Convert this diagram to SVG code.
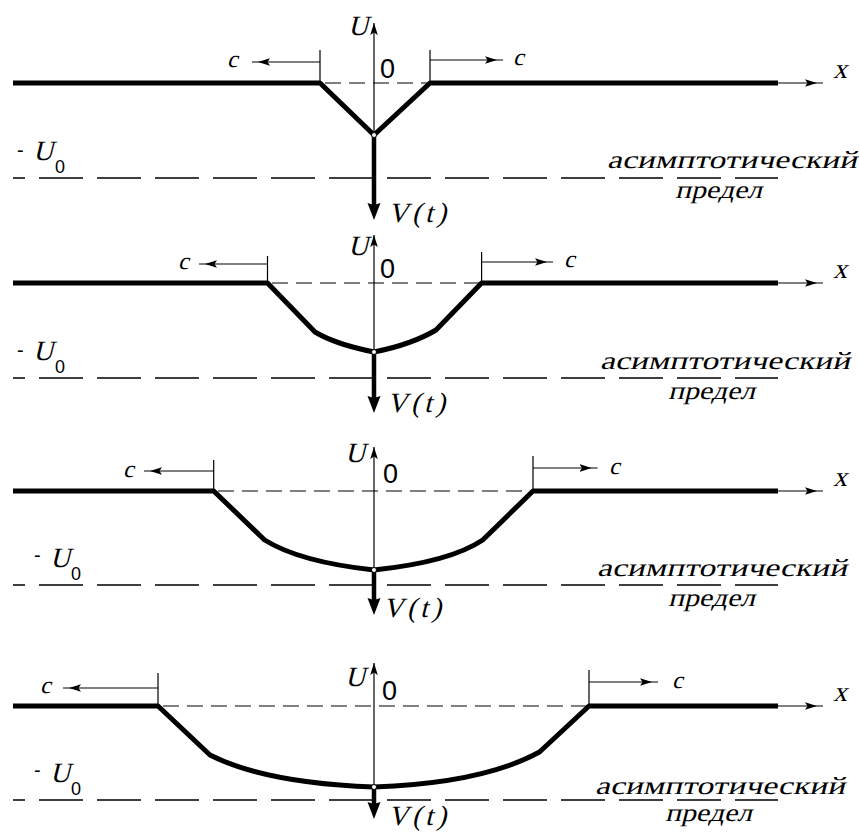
<svg xmlns="http://www.w3.org/2000/svg" width="859" height="835" viewBox="0 0 859 835">
<style>
.bg{fill:#fff}
.thick{stroke:#000;stroke-width:5;fill:none;stroke-linejoin:round}
.thin{stroke:#000;stroke-width:1.2;fill:none}
.vec{stroke:#000;stroke-width:4.5;fill:none}
.zero{stroke:#000;stroke-width:1.1;fill:none;stroke-dasharray:16 8}
.asym{stroke:#000;stroke-width:1.6;fill:none;stroke-dasharray:44 14;stroke-dashoffset:32}
.dot{fill:#fff;stroke:#000;stroke-width:1}
</style>
<defs>
<marker id="a" markerUnits="userSpaceOnUse" markerWidth="20" markerHeight="12" viewBox="0 -6 20 12" refX="18" refY="0" orient="auto"><path d="M0,-3.8 L12,0 L0,3.8 L2.5,0 z" fill="#000"/></marker>
<marker id="a2" markerUnits="userSpaceOnUse" markerWidth="14" markerHeight="12" viewBox="0 -6 14 12" refX="12" refY="0" orient="auto"><path d="M0,-3.8 L12,0 L0,3.8 L2.5,0 z" fill="#000"/></marker>
<marker id="v" markerUnits="userSpaceOnUse" markerWidth="18" markerHeight="14" viewBox="0 -7 18 14" refX="3" refY="0" orient="auto"><path d="M0,-6.5 L17,0 L0,6.5 L2,0 z" fill="#000"/></marker>
</defs>
<rect class="bg" x="0" y="0" width="859" height="835"/>

<g id="panel1">
<line class="asym" x1="13" y1="178" x2="778" y2="178"/>
<line class="zero" x1="325" y1="83" x2="430" y2="83"/>
<path class="thick" d="M13,83 H320 L374,135 L430,83 H778"/>
<line class="thin" x1="778" y1="83" x2="823" y2="83" marker-end="url(#a)"/>
<path class="thin" d="M320,50 V83 M430,50 V83"/>
<line class="thin" x1="320" y1="62" x2="252" y2="62" marker-end="url(#a)"/>
<line class="thin" x1="430" y1="60" x2="503" y2="60" marker-end="url(#a)"/>
<line class="thin" x1="374" y1="135" x2="374" y2="23" marker-end="url(#a2)"/>
<line class="vec" x1="374" y1="135" x2="374" y2="206" marker-end="url(#v)"/>
<circle class="dot" cx="374" cy="135" r="2.5"/>
<g font-family="Liberation Serif, serif" fill="#000">
<text font-size="24" transform="translate(227,67) skewX(-14)">c</text>
<text font-size="24" transform="translate(513,65) skewX(-14)">c</text>
<text font-size="28" transform="translate(348,35) skewX(-14)">U</text>
<text font-size="28" transform="translate(833,78) skewX(-14)">x</text>
<text font-size="28" transform="translate(388,222) skewX(-14)" textLength="58">V(t)</text>
<text font-size="28" transform="translate(33,160) skewX(-14)">U</text>
<text font-size="25" transform="translate(607,168) skewX(-14)" textLength="250" lengthAdjust="spacingAndGlyphs">асимптотический</text>
<text font-size="25" transform="translate(675,198) skewX(-14)" textLength="87" lengthAdjust="spacingAndGlyphs">предел</text>
</g>
<g font-family="Liberation Sans, sans-serif" fill="#000">
<text font-size="27" x="380" y="78">0</text>
<text font-size="20" x="17" y="157">-</text>
<text font-size="18" x="55" y="173">0</text>
</g>
</g>

<g id="panel2">
<line class="asym" x1="13" y1="378" x2="778" y2="378"/>
<line class="zero" x1="272" y1="283" x2="481.6" y2="283"/>
<path class="thick" d="M13,283 H267.5 L315,332 Q335.5,344.3 374,352 Q412,344.4 436,330 L481.6,283 H778"/>
<line class="thin" x1="778" y1="283" x2="823" y2="283" marker-end="url(#a)"/>
<path class="thin" d="M267.5,256 V283 M481.6,252 V283"/>
<line class="thin" x1="267.5" y1="264" x2="199" y2="264" marker-end="url(#a)"/>
<line class="thin" x1="481.6" y1="262" x2="553" y2="262" marker-end="url(#a)"/>
<line class="thin" x1="374" y1="352" x2="374" y2="235" marker-end="url(#a2)"/>
<line class="vec" x1="374" y1="352" x2="374" y2="399" marker-end="url(#v)"/>
<circle class="dot" cx="374" cy="352" r="2.5"/>
<g font-family="Liberation Serif, serif" fill="#000">
<text font-size="24" transform="translate(178,269) skewX(-14)">c</text>
<text font-size="24" transform="translate(564,267) skewX(-14)">c</text>
<text font-size="28" transform="translate(348,255) skewX(-14)">U</text>
<text font-size="28" transform="translate(833,278) skewX(-14)">x</text>
<text font-size="28" transform="translate(387,412) skewX(-14)" textLength="58">V(t)</text>
<text font-size="28" transform="translate(33,360) skewX(-14)">U</text>
<text font-size="25" transform="translate(600,369) skewX(-14)" textLength="250" lengthAdjust="spacingAndGlyphs">асимптотический</text>
<text font-size="25" transform="translate(668,399) skewX(-14)" textLength="87" lengthAdjust="spacingAndGlyphs">предел</text>
</g>
<g font-family="Liberation Sans, sans-serif" fill="#000">
<text font-size="27" x="380" y="278">0</text>
<text font-size="20" x="17" y="357">-</text>
<text font-size="18" x="55" y="373">0</text>
</g>
</g>

<g id="panel3">
<line class="asym" x1="13" y1="585" x2="778" y2="585"/>
<line class="zero" x1="218" y1="491" x2="533" y2="491"/>
<path class="thick" d="M13,491 H213.7 L264.6,540 Q300,562 374,570 Q450,562 482.7,540 L533,491 H778"/>
<line class="thin" x1="778" y1="491" x2="823" y2="491" marker-end="url(#a)"/>
<path class="thin" d="M213.7,460 V491 M533,456 V491"/>
<line class="thin" x1="213.7" y1="471" x2="144" y2="471" marker-end="url(#a)"/>
<line class="thin" x1="533" y1="468" x2="597.5" y2="468" marker-end="url(#a)"/>
<line class="thin" x1="374" y1="570" x2="374" y2="447" marker-end="url(#a2)"/>
<line class="vec" x1="374" y1="570" x2="374" y2="601" marker-end="url(#v)"/>
<circle class="dot" cx="374" cy="570" r="2.5"/>
<g font-family="Liberation Serif, serif" fill="#000">
<text font-size="24" transform="translate(123,477) skewX(-14)">c</text>
<text font-size="24" transform="translate(609,474) skewX(-14)">c</text>
<text font-size="28" transform="translate(345,462) skewX(-14)">U</text>
<text font-size="28" transform="translate(833,486) skewX(-14)">x</text>
<text font-size="28" transform="translate(383,617) skewX(-14)" textLength="58">V(t)</text>
<text font-size="28" transform="translate(50,567) skewX(-14)">U</text>
<text font-size="25" transform="translate(597,576) skewX(-14)" textLength="250" lengthAdjust="spacingAndGlyphs">асимптотический</text>
<text font-size="25" transform="translate(668,606) skewX(-14)" textLength="87" lengthAdjust="spacingAndGlyphs">предел</text>
</g>
<g font-family="Liberation Sans, sans-serif" fill="#000">
<text font-size="27" x="383" y="483">0</text>
<text font-size="20" x="34" y="562">-</text>
<text font-size="18" x="71" y="580">0</text>
</g>
</g>

<g id="panel4">
<line class="asym" x1="13" y1="800" x2="778" y2="800"/>
<line class="zero" x1="163" y1="706" x2="589" y2="706"/>
<path class="thick" d="M13,706 H158 L210,755 Q265,783 374,787 Q483,783 539.5,752 L589,706 H778"/>
<line class="thin" x1="778" y1="706" x2="823" y2="706" marker-end="url(#a)"/>
<path class="thin" d="M158,673 V706 M589,670 V706"/>
<line class="thin" x1="158" y1="688" x2="63" y2="688" marker-end="url(#a)"/>
<line class="thin" x1="589" y1="682" x2="658" y2="682" marker-end="url(#a)"/>
<line class="thin" x1="374" y1="787" x2="374" y2="663" marker-end="url(#a2)"/>
<line class="vec" x1="374" y1="787" x2="374" y2="805" marker-end="url(#v)"/>
<circle class="dot" cx="374" cy="787" r="2.5"/>
<g font-family="Liberation Serif, serif" fill="#000">
<text font-size="24" transform="translate(40,693) skewX(-14)">c</text>
<text font-size="24" transform="translate(672,688) skewX(-14)">c</text>
<text font-size="28" transform="translate(345,686) skewX(-14)">U</text>
<text font-size="28" transform="translate(833,701) skewX(-14)">x</text>
<text font-size="28" transform="translate(388,825) skewX(-14)" textLength="58">V(t)</text>
<text font-size="28" transform="translate(50,782) skewX(-14)">U</text>
<text font-size="25" transform="translate(595,794) skewX(-14)" textLength="250" lengthAdjust="spacingAndGlyphs">асимптотический</text>
<text font-size="25" transform="translate(665,821) skewX(-14)" textLength="87" lengthAdjust="spacingAndGlyphs">предел</text>
</g>
<g font-family="Liberation Sans, sans-serif" fill="#000">
<text font-size="27" x="382" y="700">0</text>
<text font-size="20" x="34" y="777">-</text>
<text font-size="18" x="71" y="795">0</text>
</g>
</g>
</svg>
